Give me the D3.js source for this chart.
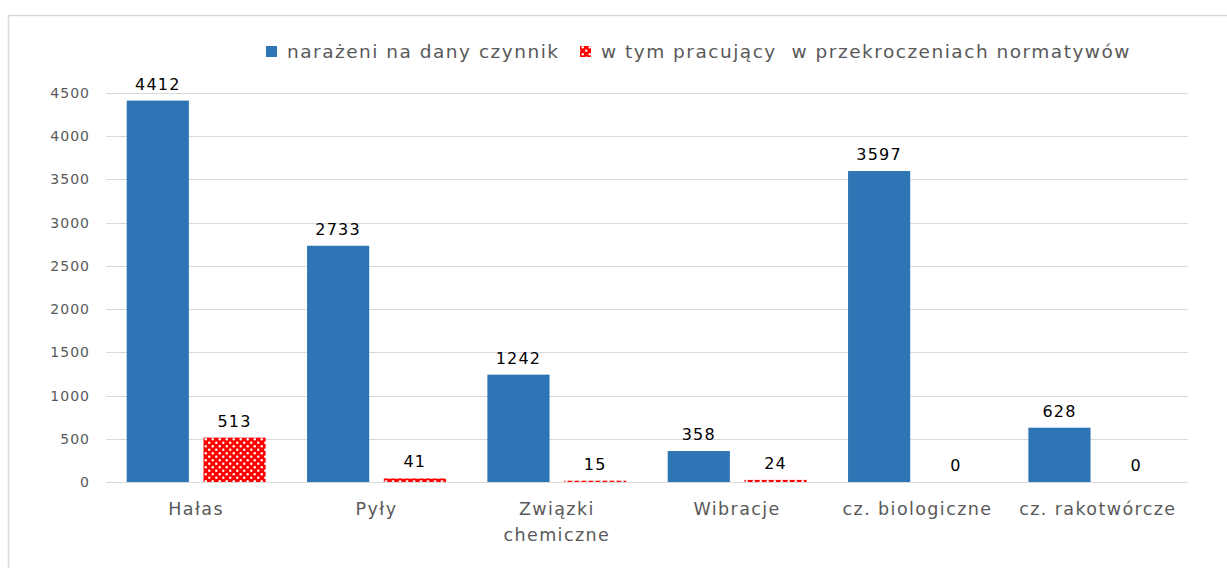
<!DOCTYPE html>
<html>
<head>
<meta charset="utf-8">
<script src="https://cdn.jsdelivr.net/npm/d3@7"></script>
<style>
  body { margin: 0; background: #fff; font-family: "DejaVu Sans", sans-serif; }
</style>
</head>
<body>
<div id="chart-area"></div>
<script>
let categories = [["Hałas"], ["Pyły"], ["Związki", "chemiczne"], ["Wibracje"], ["cz. biologiczne"], ["cz. rakotwórcze"]];
let exposed = [4412, 2733, 1242, 358, 3597, 628];
let overLimit = [513, 41, 15, 24, 0, 0];
let yTicks = [0, 500, 1000, 1500, 2000, 2500, 3000, 3500, 4000, 4500];
let seriesNames = ["narażeni na dany czynnik", "w tym pracujący  w przekroczeniach normatywów"];

let width = 1227, height = 568;
let margin = { left: 106, right: 39, top: 93, bottom: 86 };

let svg = d3.select("#chart-area").append("svg").attr("width", width).attr("height", height)
  .attr("font-family", "DejaVu Sans");

// red "sphere" pattern for the second series
let defs = svg.append("defs");
let pat = defs.append("pattern").attr("id", "dots")
  .attr("patternUnits", "userSpaceOnUse").attr("width", 7).attr("height", 7);
pat.append("rect").attr("width", 7).attr("height", 7).attr("fill", "#ff0000");
pat.append("circle").attr("cx", 1.75).attr("cy", 5.25).attr("r", 1.2).attr("fill", "#fff");
pat.append("circle").attr("cx", 5.25).attr("cy", 1.75).attr("r", 1.2).attr("fill", "#fff");

// outer frame
svg.append("rect").attr("x", 8.5).attr("y", 15.5).attr("width", 1240).attr("height", 600)
  .attr("fill", "none").attr("stroke", "#d9d9d9").attr("stroke-width", 1.5);

let x = d3.scaleBand().domain(d3.range(categories.length))
  .range([margin.left, width - margin.right]);
let x1 = d3.scaleBand().domain([0, 1]).range([0, x.bandwidth()]).paddingInner(0.19).paddingOuter(0.27);
let y = d3.scaleLinear().domain([0, 4500]).range([height - margin.bottom, margin.top]);

// gridlines
svg.append("g").selectAll("line").data(yTicks).enter().append("line")
  .attr("x1", margin.left).attr("x2", width - margin.right)
  .attr("y1", d => Math.round(y(d)) + 0.5).attr("y2", d => Math.round(y(d)) + 0.5)
  .attr("stroke", "#d9d9d9").attr("stroke-width", 1);

// y axis labels
let yAxis = svg.append("g").attr("transform", `translate(${margin.left - 16},0)`)
  .call(d3.axisLeft(y).tickValues(yTicks).tickFormat(d3.format("d")).tickSize(0).tickPadding(0));
yAxis.select(".domain").remove();
yAxis.selectAll("text").attr("font-family", "DejaVu Sans").attr("font-size", 14)
  .attr("letter-spacing", 1).attr("fill", "#595959");

// bars
let groups = svg.append("g").selectAll("g").data(d3.range(categories.length)).enter().append("g")
  .attr("transform", i => `translate(${x(i)},0)`);

groups.append("rect")
  .attr("x", x1(0)).attr("width", x1.bandwidth())
  .attr("y", i => y(exposed[i])).attr("height", i => y(0) - y(exposed[i]))
  .attr("fill", "#2e75b6");

groups.append("rect")
  .attr("x", x1(1)).attr("width", x1.bandwidth())
  .attr("y", i => y(overLimit[i])).attr("height", i => y(0) - y(overLimit[i]))
  .attr("fill", "url(#dots)");

// data labels
groups.append("text")
  .attr("x", x1(0) + x1.bandwidth() / 2).attr("y", i => y(exposed[i]) - 11)
  .attr("text-anchor", "middle").attr("font-size", 16).attr("letter-spacing", 1.2).attr("fill", "#000")
  .text(i => exposed[i]);
groups.append("text")
  .attr("x", x1(1) + x1.bandwidth() / 2).attr("y", i => y(overLimit[i]) - 11)
  .attr("text-anchor", "middle").attr("font-size", 16).attr("letter-spacing", 1.2).attr("fill", "#000")
  .text(i => overLimit[i]);

// category labels
groups.append("text")
  .attr("x", x.bandwidth() / 2).attr("y", y(0) + 33)
  .attr("text-anchor", "middle").attr("font-size", 17.5).attr("letter-spacing", 1.4).attr("fill", "#595959")
  .selectAll("tspan").data(i => categories[i]).enter().append("tspan")
  .attr("x", x.bandwidth() / 2).attr("dy", (d, j) => j === 0 ? 0 : 26)
  .text(d => d);

// legend
let legend = svg.append("g").attr("font-size", 18.5).attr("letter-spacing", 1.5).attr("fill", "#595959");
legend.append("rect").attr("x", 266).attr("y", 46).attr("width", 11).attr("height", 11).attr("fill", "#2e75b6");
legend.append("text").attr("x", 287).attr("y", 58).text(seriesNames[0]);
legend.append("rect").attr("x", 580).attr("y", 46).attr("width", 11).attr("height", 11).attr("fill", "url(#dots)");
legend.append("text").attr("x", 601).attr("y", 58).style("white-space", "pre").text(seriesNames[1]);
</script>
</body>
</html>
